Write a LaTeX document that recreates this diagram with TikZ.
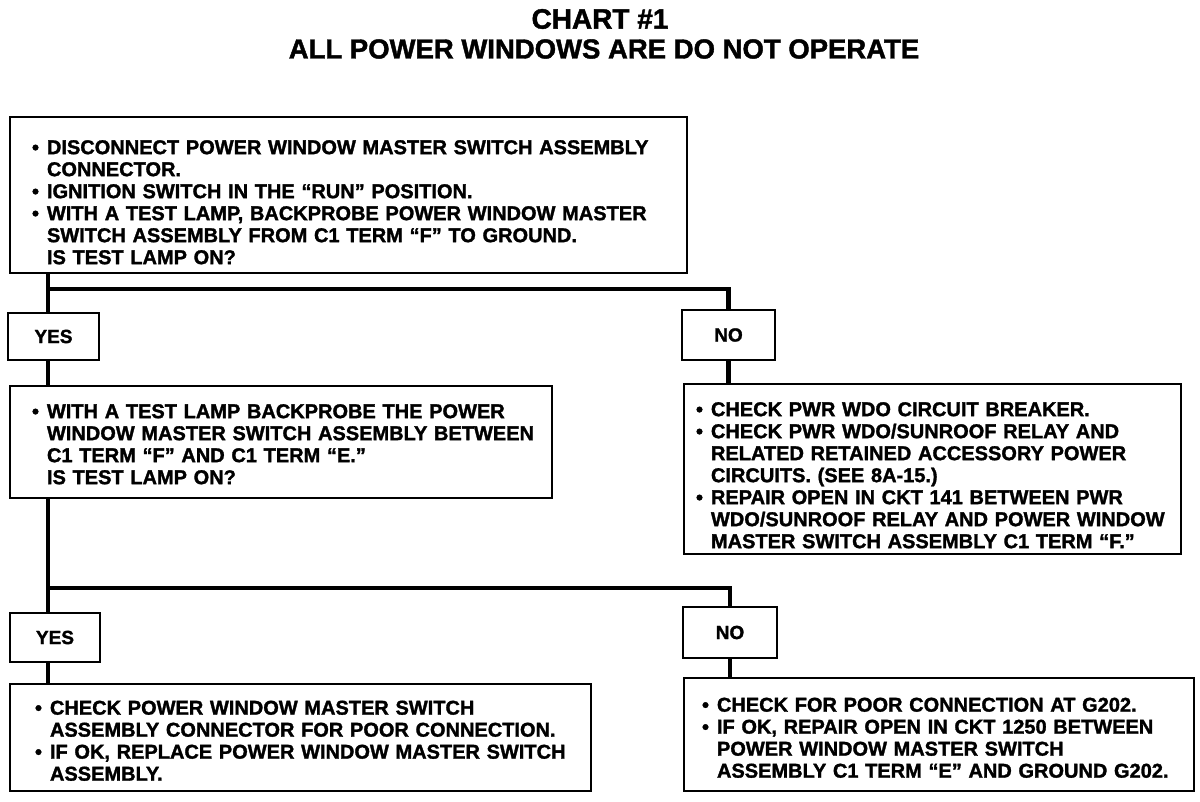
\documentclass[tikz,border=0pt]{standalone}
\usepackage{fontspec}
\setmainfont{Liberation Sans}[BoldFeatures={FakeBold=1.5}]
\usetikzlibrary{positioning}
% one bulleted line, one continued line, each kept whole
\newcommand{\bulline}[1]{\mbox{\makebox[15pt][l]{•}#1}}
\newcommand{\contline}[1]{\mbox{\hspace*{15pt}#1}}
\newcommand{\lift}[1]{\rule{0pt}{#1}}

\begin{document}
\begin{tikzpicture}[
    x=1pt, y=-1pt,
    step box/.style={
        draw, rectangle, anchor=north west,
        line width=2pt, align=left,
        inner ysep=4pt,
        font=\fontsize{20}{22}\selectfont\bfseries
    },
    answer/.style={
        draw, rectangle, line width=2pt,
        font=\fontsize{19}{20}\selectfont\bfseries
    },
    wire/.style={line width=4.5pt}
]
\useasboundingbox (0,0) rectangle (1200,802);

\node[font=\fontsize{28}{30}\selectfont\bfseries] (title) at (600,19) {CHART \#1};
\node[font=\fontsize{27.5}{29}\selectfont\bfseries] (subtitle) at (604,49) {ALL POWER WINDOWS ARE DO NOT OPERATE};

\node[step box, minimum width=677pt, minimum height=156pt, inner xsep=22pt, text width=633pt] (first) at (9,116) {
    \lift{28.5pt}\bulline{DISCONNECT POWER WINDOW MASTER SWITCH ASSEMBLY}\\
    \contline{CONNECTOR.}\\
    \bulline{IGNITION SWITCH IN THE “RUN” POSITION.}\\
    \bulline{WITH A TEST LAMP, BACKPROBE POWER WINDOW MASTER}\\
    \contline{SWITCH ASSEMBLY FROM C1 TERM “F” TO GROUND.}\\
    \contline{IS TEST LAMP ON?}
};

\node[answer, minimum width=91pt, minimum height=47pt] (yesA) at (53.5,336.5) {YES};
\node[answer, minimum width=93pt, minimum height=50pt] (noA) at (728.5,335) {NO};

\node[step box, minimum width=542pt, minimum height=112pt, inner xsep=22pt, text width=498pt] (second) at (9,385) {
    \lift{18.5pt}\bulline{WITH A TEST LAMP BACKPROBE THE POWER}\\
    \contline{WINDOW MASTER SWITCH ASSEMBLY BETWEEN}\\
    \contline{C1 TERM “F” AND C1 TERM “E.”}\\
    \contline{IS TEST LAMP ON?}
};

\node[step box, minimum width=497pt, minimum height=170pt, inner xsep=12pt, text width=473pt] (breaker) at (683,383) {
    \lift{26.5pt}\bulline{CHECK PWR WDO CIRCUIT BREAKER.}\\
    \bulline{CHECK PWR WDO/SUNROOF RELAY AND}\\
    \contline{RELATED RETAINED ACCESSORY POWER}\\
    \contline{CIRCUITS. (SEE 8A-15.)}\\
    \bulline{REPAIR OPEN IN CKT 141 BETWEEN PWR}\\
    \contline{WDO/SUNROOF RELAY AND POWER WINDOW}\\
    \contline{MASTER SWITCH ASSEMBLY C1 TERM “F.”}
};

\node[answer, minimum width=90pt, minimum height=49pt] (yesB) at (55,637.5) {YES};
\node[answer, minimum width=94pt, minimum height=51pt] (noB) at (730,632.5) {NO};

\node[step box, minimum width=581pt, minimum height=107pt, inner xsep=25pt, text width=531pt] (connector) at (9,683) {
    \lift{20.5pt}\bulline{CHECK POWER WINDOW MASTER SWITCH}\\
    \contline{ASSEMBLY CONNECTOR FOR POOR CONNECTION.}\\
    \bulline{IF OK, REPLACE POWER WINDOW MASTER SWITCH}\\
    \contline{ASSEMBLY.}
};

\node[step box, minimum width=510pt, minimum height=113pt, inner xsep=18pt, text width=474pt] (ground) at (683,677) {
    \lift{20.5pt}\bulline{CHECK FOR POOR CONNECTION AT G202.}\\
    \bulline{IF OK, REPAIR OPEN IN CKT 1250 BETWEEN}\\
    \contline{POWER WINDOW MASTER SWITCH}\\
    \contline{ASSEMBLY C1 TERM “E” AND GROUND G202.}
};

% branch points
\coordinate (splitA) at (48,289);
\coordinate (splitB) at (48,588);

\draw[wire] (first.south -| splitA) -- (yesA.north -| splitA);
\draw[wire] (splitA) -| (noA.north);
\draw[wire] (yesA.south -| splitA) -- (second.north -| splitA);
\draw[wire] (noA.south) -- (noA.south |- breaker.north);

\draw[wire] (second.south -| splitB) -- (yesB.north -| splitB);
\draw[wire] (splitB) -| (noB.north);
\draw[wire] (yesB.south -| splitB) -- (connector.north -| splitB);
\draw[wire] (noB.south) -- (noB.south |- ground.north);

\end{tikzpicture}
\end{document}
